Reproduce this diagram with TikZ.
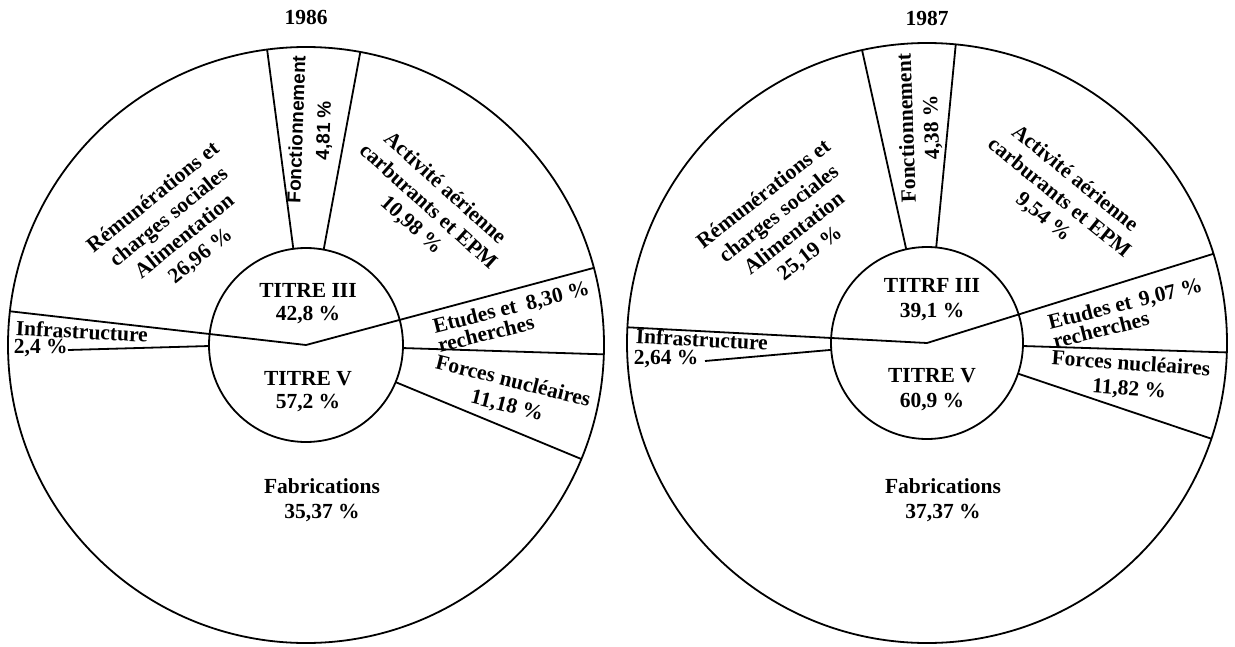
\documentclass[tikz,border=0pt]{standalone}
\usepackage{fontspec}
\setmainfont{Liberation Serif}
\newfontfamily\helv{Liberation Sans}
\usetikzlibrary{calc}
\begin{document}
\begin{tikzpicture}[x=1pt,y=-1pt,line width=1.8pt,
  lbl/.style={font=\fontsize{21.5}{25}\selectfont\bfseries,align=center,inner sep=0pt},
  lbll/.style={font=\fontsize{21.5}{20}\selectfont\bfseries,align=left,inner sep=0pt},
  sanslbl/.style={font=\fontsize{19}{27}\selectfont\helv\bfseries,align=center,inner sep=0pt}]
\useasboundingbox (0,0) rectangle (1235,646);
% ---------------- 1986 ----------------
\coordinate (C1) at (306,345);
\node[lbl] (t1) at (306,17) {1986};
\draw (C1) circle[radius=298];
\draw (C1) circle[radius=97];
\coordinate (A1) at ($(C1)+(186.5:298)$);
\coordinate (B1) at ($(C1)+(-15:298)$);
\draw (A1) -- (C1) -- (B1);
\draw ($(C1)+(-97.5:97)$) -- ($(C1)+(-97.5:298)$);
\draw ($(C1)+(-79.5:97)$) -- ($(C1)+(-79.5:298)$);
\draw ($(C1)+(1.8:97)$) -- ($(C1)+(1.8:298)$);
\draw ($(C1)+(22.5:97)$) -- ($(C1)+(22.5:298)$);
\coordinate (E1) at (68,350);
\draw ($(C1)+(179.4:97)$) -- (E1);
\node[sanslbl,rotate=88] (f1) at (311,130) {Fonctionnement\\4,81 \%};
\node[lbl,rotate=39] (r1) at (177,227) {Rémunérations et\\charges sociales\\Alimentation\\26,96 \%};
\node[lbl,rotate=-42] (a1) at (428,207) {Activité aérienne\\carburants et EPM\\10,98 \%};
\node[lbl,font=\fontsize{21.5}{23}\selectfont\bfseries] (ti1) at (308,303.5) {TITRE III\\42,8 \%};
\node[lbl,font=\fontsize{21.5}{23}\selectfont\bfseries] (tv1) at (308,391.5) {TITRE V\\57,2 \%};
\node[lbl,anchor=west,rotate=-3] (i1) at (15,328) {Infrastructure};
\node[lbl,anchor=west] (ip1) at (13,348) {2,4 \%};
\node[lbll,anchor=west,rotate=14] (e1) at (435,336) {Etudes et\hspace{10pt}8,30 \%\\recherches};
\node[lbl,rotate=-14] (n1) at (510,394) {Forces nucléaires\\11,18 \%};
\node[lbl] (fa1) at (322,500) {Fabrications\\35,37 \%};
% ---------------- 1987 ----------------
\coordinate (C2) at (927,343);
\node[lbl] (t2) at (927,18) {1987};
\draw (C2) circle[radius=300];
\draw (C2) circle[radius=96];
\coordinate (A2) at ($(C2)+(183:300)$);
\coordinate (B2) at ($(C2)+(-17.3:300)$);
\draw (A2) -- (C2) -- (B2);
\draw ($(C2)+(-102.5:96)$) -- ($(C2)+(-102.5:300)$);
\draw ($(C2)+(-84.5:96)$) -- ($(C2)+(-84.5:300)$);
\draw ($(C2)+(1.8:96)$) -- ($(C2)+(1.8:300)$);
\draw ($(C2)+(18.6:96)$) -- ($(C2)+(18.6:300)$);
\coordinate (E2) at (705,361);
\draw ($(C2)+(175.9:96)$) -- (E2);
\node[lbl,rotate=92] (f2) at (920,128) {Fonctionnement\\4,38 \%};
\node[lbl,rotate=38] (r2) at (787,224) {Rémunérations et\\charges sociales\\Alimentation\\25,19 \%};
\node[lbl,rotate=-39] (a2) at (1059,198) {Activité aérienne\\carburants et EPM\\9,54 \%};
\node[lbl,font=\fontsize{21.5}{25}\selectfont\bfseries] (ti2) at (932,299.5) {TITRF III\\39,1 \%};
\node[lbl,font=\fontsize{21.5}{25}\selectfont\bfseries] (tv2) at (932,390) {TITRE V\\60,9 \%};
\node[lbl,anchor=west,rotate=-3] (i2) at (635,336) {Infrastructure};
\node[lbl,anchor=west] (ip2) at (633,359) {2,64 \%};
\node[lbll,anchor=west,rotate=14] (e2) at (1050,332) {Etudes et\hspace{8pt}9,07 \%\\recherches};
\node[lbl,rotate=-4] (n2) at (1130,377) {Forces nucléaires\\11,82 \%};
\node[lbl] (fa2) at (943,500) {Fabrications\\37,37 \%};
\end{tikzpicture}
\end{document}
